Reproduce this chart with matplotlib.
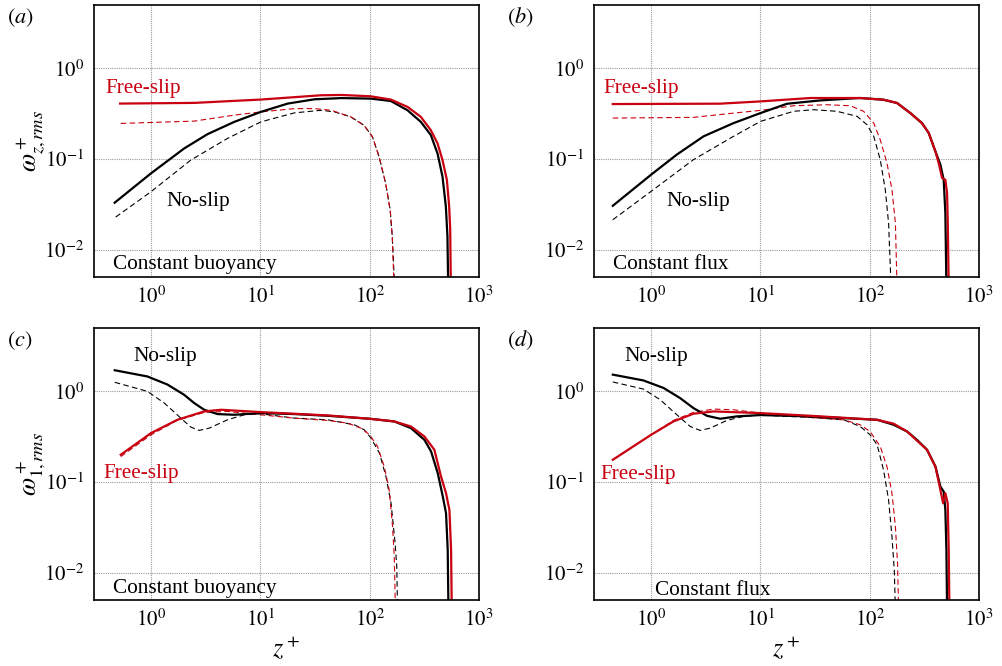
import numpy as np
import matplotlib
matplotlib.use("Agg")
import matplotlib.pyplot as plt
from matplotlib.ticker import FixedLocator, FuncFormatter, NullLocator

plt.rcParams["font.family"] = ["Liberation Serif", "DejaVu Serif"]
plt.rcParams["mathtext.fontset"] = "stix"

RED = "#c80010"
BLACK = "#000000"

# ---------------- (a) vertical vorticity, constant buoyancy ----------------
a_ns_z = [0.464, 1.0, 2.01, 3.28, 5.77, 10.1, 17.8, 31.3, 55, 102, 156, 222, 294, 363, 418, 464, 498, 515, 523]
a_ns_w = [0.033, 0.0697, 0.131, 0.188, 0.257, 0.331, 0.409, 0.456, 0.47, 0.464, 0.437, 0.345, 0.257, 0.184, 0.115, 0.064, 0.03, 0.0141, 0.004]
a_fs_z = [0.52, 2.48, 10.1, 36, 55, 102, 156, 222, 294, 363, 418, 464, 509, 534, 546, 553]
a_fs_w = [0.409, 0.416, 0.453, 0.505, 0.509, 0.492, 0.453, 0.376, 0.292, 0.208, 0.149, 0.0975, 0.0588, 0.03, 0.0166, 0.004]
a_nsd_z = [0.474, 1.0, 2.31, 5.01, 10.1, 20.5, 36, 47.7, 67, 88.7, 106, 122, 140, 154, 161, 169]
a_nsd_w = [0.0229, 0.0437, 0.0975, 0.169, 0.257, 0.323, 0.345, 0.331, 0.292, 0.236, 0.176, 0.106, 0.054, 0.0275, 0.0141, 0.004]
a_fsd_z = [0.527, 2.48, 5.77, 10.1, 20.5, 31.3, 44.5, 67, 88.7, 106, 122, 140, 154, 161, 167]
a_fsd_w = [0.247, 0.262, 0.305, 0.331, 0.36, 0.36, 0.345, 0.292, 0.236, 0.176, 0.106, 0.054, 0.0275, 0.0141, 0.004]

# ---------------- (b) vertical vorticity, constant flux ----------------
b_ns_z = [0.446, 1.0, 1.72, 3.02, 5.68, 10, 17.5, 35.3, 71.3, 82, 134, 178, 236, 301, 347, 399, 444, 476, 493, 504]
b_ns_w = [0.0305, 0.0672, 0.112, 0.178, 0.249, 0.321, 0.407, 0.443, 0.467, 0.471, 0.451, 0.415, 0.321, 0.249, 0.194, 0.122, 0.0866, 0.059, 0.0254, 0.004]
b_fs_z = [0.446, 4.29, 10, 28.6, 82, 134, 178, 236, 301, 347, 399, 428, 460, 493, 511, 518, 529]
b_fs_w = [0.404, 0.408, 0.432, 0.471, 0.471, 0.451, 0.415, 0.321, 0.249, 0.194, 0.122, 0.0903, 0.0617, 0.059, 0.0422, 0.0214, 0.004]
b_nsd_z = [0.446, 1.0, 2.44, 5.68, 10, 20.1, 30.7, 50.2, 76.6, 94.6, 109, 125, 139, 149, 157]
b_nsd_w = [0.0214, 0.044, 0.0984, 0.178, 0.26, 0.336, 0.35, 0.336, 0.296, 0.239, 0.178, 0.0984, 0.0459, 0.0197, 0.004]
b_fsd_z = [0.446, 2.44, 5.68, 10, 20.1, 40.6, 66.5, 88, 109, 125, 144, 160, 172, 178]
b_fsd_w = [0.283, 0.288, 0.321, 0.344, 0.387, 0.397, 0.387, 0.336, 0.249, 0.163, 0.0903, 0.0459, 0.0197, 0.004]

# ---------------- (c) horizontal vorticity, constant buoyancy ----------------
c_ns_z = [0.465, 0.925, 1.41, 2.0, 2.48, 3.06, 4.05, 5.76, 10, 20.4, 41.2, 100, 168, 239, 317, 365, 420, 467, 500, 518, 526]
c_ns_w = [1.71, 1.46, 1.19, 0.919, 0.743, 0.627, 0.562, 0.552, 0.576, 0.562, 0.538, 0.499, 0.466, 0.393, 0.292, 0.217, 0.125, 0.0692, 0.0453, 0.0178, 0.004]
c_fs_z = [0.527, 1.0, 1.74, 3.06, 4.35, 10, 41.2, 100, 168, 239, 317, 391, 450, 500, 537, 556, 564]
c_fs_w = [0.2, 0.347, 0.486, 0.601, 0.627, 0.591, 0.543, 0.499, 0.466, 0.41, 0.318, 0.227, 0.115, 0.0753, 0.0492, 0.0178, 0.004]
c_nsd_z = [0.465, 0.925, 1.32, 1.87, 2.31, 2.75, 3.4, 5.0, 7.11, 10, 20.4, 41.2, 72.4, 89.4, 103, 123, 141, 157, 171, 177, 180]
c_nsd_w = [1.26, 1.0, 0.743, 0.507, 0.404, 0.371, 0.393, 0.486, 0.552, 0.567, 0.507, 0.486, 0.428, 0.377, 0.305, 0.208, 0.115, 0.0583, 0.0211, 0.0117, 0.004]
c_fsd_z = [0.527, 1.0, 1.74, 3.06, 5.0, 10, 20.4, 41.2, 62.9, 83.3, 100, 118, 136, 151, 162, 168, 172]
c_fsd_w = [0.191, 0.332, 0.48, 0.586, 0.601, 0.552, 0.507, 0.478, 0.447, 0.393, 0.332, 0.247, 0.148, 0.0819, 0.0322, 0.015, 0.004]

# ---------------- (d) horizontal vorticity, constant flux ----------------
d_ns_z = [0.446, 0.851, 1.3, 1.84, 2.44, 3.24, 4.29, 6.1, 10, 28.6, 57.8, 117, 166, 220, 271, 335, 400, 444, 476, 493, 504, 511]
d_ns_w = [1.53, 1.32, 1.09, 0.844, 0.654, 0.538, 0.499, 0.53, 0.548, 0.53, 0.507, 0.486, 0.428, 0.361, 0.292, 0.227, 0.148, 0.0891, 0.0785, 0.0492, 0.0178, 0.004]
d_fs_z = [0.446, 1.0, 1.6, 2.44, 3.72, 10, 28.6, 117, 166, 220, 335, 400, 444, 470, 493, 518, 529, 537]
d_fs_w = [0.176, 0.332, 0.466, 0.567, 0.601, 0.576, 0.538, 0.486, 0.44, 0.361, 0.227, 0.148, 0.0819, 0.0583, 0.0753, 0.0583, 0.0178, 0.004]
d_nsd_z = [0.446, 0.851, 1.21, 1.72, 2.28, 2.81, 3.47, 4.93, 7.01, 10, 28.6, 57.8, 82, 101, 117, 134, 149, 160, 168, 172]
d_nsd_w = [1.27, 1.06, 0.809, 0.552, 0.41, 0.371, 0.393, 0.478, 0.53, 0.548, 0.516, 0.486, 0.41, 0.332, 0.258, 0.136, 0.0635, 0.025, 0.0107, 0.004]
d_fsd_z = [0.446, 1.0, 1.6, 2.44, 3.72, 5.68, 10, 28.6, 57.8, 82, 101, 125, 144, 160, 172, 180, 184]
d_fsd_w = [0.176, 0.332, 0.478, 0.586, 0.638, 0.627, 0.576, 0.516, 0.486, 0.428, 0.361, 0.247, 0.148, 0.0753, 0.0322, 0.0127, 0.004]

xticks = [1, 10, 100, 1000]
yticks = [0.01, 0.1, 1]

panels = [
    dict(pos=[0.0937, 0.5841, 0.3838, 0.4084], tag="a", ylabel=r"$\omega^+_{z,rms}$",
         ns=(a_ns_z, a_ns_w), fs=(a_fs_z, a_fs_w), nsd=(a_nsd_z, a_nsd_w), fsd=(a_fsd_z, a_fsd_w),
         texts=[("Free-slip", 0.378, 0.535, RED), ("No-slip", 1.39, 0.030, BLACK),
                ("Constant buoyancy", 0.45, 0.0061, BLACK)], xlabel=False),
    dict(pos=[0.5922, 0.5841, 0.3838, 0.4084], tag="b", ylabel=None,
         ns=(b_ns_z, b_ns_w), fs=(b_fs_z, b_fs_w), nsd=(b_nsd_z, b_nsd_w), fsd=(b_fsd_z, b_fsd_w),
         texts=[("Free-slip", 0.369, 0.535, RED), ("No-slip", 1.39, 0.030, BLACK),
                ("Constant flux", 0.446, 0.0061, BLACK)], xlabel=False),
    dict(pos=[0.0937, 0.0991, 0.3838, 0.4084], tag="c", ylabel=r"$\omega^+_{1,rms}$",
         ns=(c_ns_z, c_ns_w), fs=(c_fs_z, c_fs_w), nsd=(c_nsd_z, c_nsd_w), fsd=(c_fsd_z, c_fsd_w),
         texts=[("No-slip", 0.688, 2.14, BLACK), ("Free-slip", 0.365, 0.110, RED),
                ("Constant buoyancy", 0.45, 0.0060, BLACK)], xlabel=True),
    dict(pos=[0.5922, 0.0991, 0.3838, 0.4084], tag="d", ylabel=None,
         ns=(d_ns_z, d_ns_w), fs=(d_fs_z, d_fs_w), nsd=(d_nsd_z, d_nsd_w), fsd=(d_fsd_z, d_fsd_w),
         texts=[("No-slip", 0.566, 2.14, BLACK), ("Free-slip", 0.345, 0.108, RED),
                ("Constant flux", 1.09, 0.00567, BLACK)], xlabel=True),
]


def pow10(v, _pos):
    return r"$10^{%d}$" % int(round(np.log10(v)))


fig = plt.figure(figsize=(10.03, 6.66), dpi=100)

for p in panels:
    ax = fig.add_axes(p["pos"])
    ax.set_xscale("log")
    ax.set_yscale("log")
    ax.set_xlim(0.3, 1000)
    ax.set_ylim(0.005, 5)

    ax.xaxis.set_major_locator(FixedLocator(xticks))
    ax.yaxis.set_major_locator(FixedLocator(yticks))
    ax.xaxis.set_minor_locator(NullLocator())
    ax.yaxis.set_minor_locator(NullLocator())
    ax.xaxis.set_major_formatter(FuncFormatter(pow10))
    ax.yaxis.set_major_formatter(FuncFormatter(pow10))
    ax.tick_params(length=0, labelsize=15, pad=7)
    ax.tick_params(axis="x", pad=7)
    ax.grid(True, which="major", color="#9a9a9a", linestyle=(0, (1, 1)), linewidth=0.8)
    ax.set_axisbelow(True)
    for s in ax.spines.values():
        s.set_linewidth(1.2)
        s.set_zorder(7)

    ax.plot(*p["nsd"], color=BLACK, lw=0.8, dashes=(5, 3), zorder=3)
    ax.plot(*p["fsd"], color=RED, lw=0.8, dashes=(5, 3), zorder=3)
    ax.plot(*p["ns"], color=BLACK, lw=1.6, zorder=4, solid_joinstyle="round")
    ax.plot(*p["fs"], color=RED, lw=1.6, zorder=5, solid_joinstyle="round")

    for txt, x, y, c in p["texts"]:
        ax.text(x, y, txt, color=c, fontsize=15.3, ha="left", va="baseline", zorder=6)

    ax.text(-0.225, 0.955, r"$($" + r"$\mathit{%s}$" % p["tag"] + r"$)$", transform=ax.transAxes,
            fontsize=16, ha="left", va="center")

    if p["ylabel"]:
        ax.set_ylabel(p["ylabel"], fontsize=19, labelpad=-2.5)
    if p["xlabel"]:
        ax.set_xlabel(r"$z^+$", fontsize=19, labelpad=2)

fig.savefig("out.png", dpi=100)
